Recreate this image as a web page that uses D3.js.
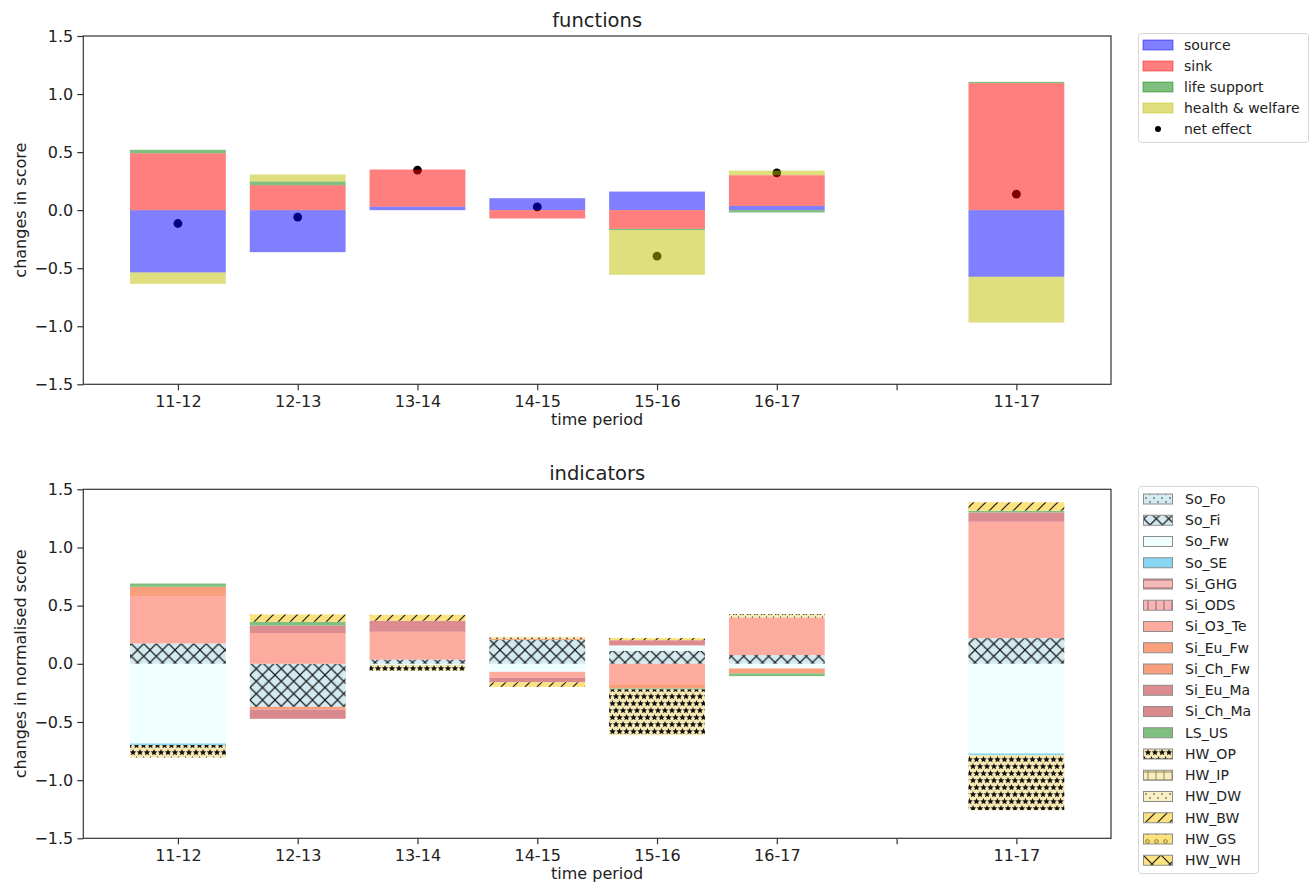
<!DOCTYPE html>
<html>
<head>
<meta charset="utf-8">
<script src="https://cdn.jsdelivr.net/npm/d3@7"></script>
<style>
  body { margin: 0; background: #fff; }
  svg { display: block; font-family: "DejaVu Sans", sans-serif; }
</style>
</head>
<body>
<svg id="chart" width="1314" height="885"></svg>
<script>
// ---------- data ----------
const categories = ["11-12", "12-13", "13-14", "14-15", "15-16", "16-17", "", "11-17"];
const yTicks = [-1.5, -1.0, -0.5, 0.0, 0.5, 1.0, 1.5];

// functions (top)
const fnNames = ["source", "sink", "life support", "health & welfare"];
const source        = [-0.537, -0.362, 0.030,  0.103,  0.160, 0.037, 0, -0.574];
const sink          = [ 0.490,  0.215, 0.320, -0.072, -0.161, 0.264, 0,  1.094];
const lifeSupport   = [ 0.030,  0.032, 0.000,  0.000, -0.011, -0.020, 0, 0.011];
const healthWelfare = [-0.098,  0.060, 0.000,  0.000, -0.385, 0.040, 0, -0.394];
const netEffect     = [-0.115, -0.060, 0.345,  0.028, -0.396, 0.321, null, 0.138];

// indicators (bottom)
const indNames = ["So_Fo","So_Fi","So_Fw","So_SE","Si_GHG","Si_ODS","Si_O3_Te","Si_Eu_Fw","Si_Ch_Fw",
                  "Si_Eu_Ma","Si_Ch_Ma","LS_US","HW_OP","HW_IP","HW_DW","HW_BW","HW_GS","HW_WH"];
const So_Fo    = [0, 0, 0, 0, 0, 0, 0, 0];
const So_Fi    = [0.175, -0.370, 0.037, 0.205, 0.112, 0.075, 0, 0.221];
const So_Fw    = [-0.685, 0, -0.010, -0.069, 0.046, -0.040, 0, -0.771];
const So_SE    = [-0.014, 0, 0, 0, 0, 0, 0, -0.014];
const Si_GHG   = [0, 0, 0, 0, 0, 0, 0, 0];
const Si_ODS   = [0, 0, 0, 0, 0, 0, 0, 0];
const Si_O3_Te = [0.407, 0.265, 0.238, -0.051, -0.175, 0.323, 0, 1.000];
const Si_Eu_Fw = [0.080, -0.023, 0, 0.008, -0.037, -0.043, 0, 0];
const Si_Ch_Fw = [0, 0, 0, 0, 0, 0, 0, 0];
const Si_Eu_Ma = [0, 0.064, 0.095, 0, 0.045, 0, 0, 0.080];
const Si_Ch_Ma = [0, -0.080, 0, -0.040, 0, 0, 0, 0];
const LS_US    = [0.028, 0.032, 0, 0, -0.008, -0.023, 0, 0.015];
const HW_OP    = [-0.106, 0, -0.050, 0.020, -0.393, 0.029, 0, -0.473];
const HW_IP    = [0, 0, 0, 0, 0, 0, 0, 0];
const HW_DW    = [0, 0, 0, 0, 0, 0, 0, 0];
const HW_BW    = [0, 0.063, 0.051, -0.038, 0.018, 0, 0, 0.072];
const HW_GS    = [0, 0, 0, 0, 0, 0, 0, 0];
const HW_WH    = [0, 0, 0, 0, 0, 0, 0, 0];

const fnValues = [source, sink, lifeSupport, healthWelfare];
const indValues = [So_Fo, So_Fi, So_Fw, So_SE, Si_GHG, Si_ODS, Si_O3_Te, Si_Eu_Fw, Si_Ch_Fw,
                   Si_Eu_Ma, Si_Ch_Ma, LS_US, HW_OP, HW_IP, HW_DW, HW_BW, HW_GS, HW_WH];

// ---------- styles ----------
const fnColors = ["#0000ff", "#ff0000", "#008000", "#bfbf00"];
const indStyle = [
  {bg: "#d3eaf1", hatch: "dots"},
  {bg: "#d3eaf1", hatch: "xx"},
  {bg: "#effefe", hatch: null},
  {bg: "#86d6f4", hatch: null},
  {bg: "#f6bcbc", hatch: "hline"},
  {bg: "#f3b6b8", hatch: "vline"},
  {bg: "#fcab9e", hatch: null},
  {bg: "#fa9f7c", hatch: null},
  {bg: "#fa9f7c", hatch: null},
  {bg: "#dc8c90", hatch: null},
  {bg: "#d9898c", hatch: null},
  {bg: "#7fbf7f", hatch: null},
  {bg: "#f6e9b4", hatch: "star"},
  {bg: "#f7edbe", hatch: "plus"},
  {bg: "#f8efc4", hatch: "dots"},
  {bg: "#fbe27c", hatch: "slash"},
  {bg: "#fbe27c", hatch: "circle"},
  {bg: "#fbe27c", hatch: "x"}
];

const svg = d3.select("#chart");
const defs = svg.append("defs");

function starPath(cx, cy, R, r) {
  const pts = [];
  for (let k = 0; k < 10; k++) {
    const a = -Math.PI / 2 + k * Math.PI / 5;
    const rad = k % 2 === 0 ? R : r;
    pts.push([cx + rad * Math.cos(a), cy + rad * Math.sin(a)]);
  }
  return "M" + pts.map(p => p[0].toFixed(2) + "," + p[1].toFixed(2)).join("L") + "Z";
}

function makePattern(id, bg, hatch) {
  let w = 8, h = 8;
  if (hatch === "xx") { w = 12.5; h = 12.5; }
  if (hatch === "x") { w = 18; h = 18; }
  if (hatch === "slash") { w = 12; h = 12; }
  if (hatch === "star") { w = 7; h = 14; }
  if (hatch === "circle") { w = 9; h = 9; }
  const p = defs.append("pattern").attr("id", id).attr("patternUnits", "userSpaceOnUse")
    .attr("width", w).attr("height", h);
  p.append("rect").attr("width", w).attr("height", h).attr("fill", bg);
  const ink = "#1a1a1a";
  if (hatch === "xx" || hatch === "x") {
    p.append("path").attr("d", `M-1,-1L${w+1},${h+1}M-1,${h+1}L${w+1},-1`)
      .attr("stroke", ink).attr("stroke-width", 1.2);
  } else if (hatch === "slash") {
    p.append("path").attr("d", `M-2,${h+2}L${w+2},-2M-3,3L3,-3M${w-3},${h+3}L${w+3},${h-3}`)
      .attr("stroke", ink).attr("stroke-width", 1.2);
  } else if (hatch === "hline") {
    p.append("path").attr("d", `M0,4L${w},4`).attr("stroke", "#b05858").attr("stroke-width", 1);
  } else if (hatch === "vline") {
    p.append("path").attr("d", `M4,0L4,${h}`).attr("stroke", "#b05858").attr("stroke-width", 1);
  } else if (hatch === "plus") {
    p.append("path").attr("d", `M0,4L${w},4M4,0L4,${h}`).attr("stroke", "#8a8050").attr("stroke-width", 0.9);
  } else if (hatch === "dots") {
    p.append("circle").attr("cx", 2).attr("cy", 2).attr("r", 0.8).attr("fill", "#333");
    p.append("circle").attr("cx", 6).attr("cy", 6).attr("r", 0.8).attr("fill", "#333");
  } else if (hatch === "star") {
    const R = 3.5, r = 1.6;
    p.append("path").attr("d", starPath(3.5, 3.5, R, r)).attr("fill", "#111");
    p.append("path").attr("d", starPath(0, 10.5, R, r)).attr("fill", "#111");
    p.append("path").attr("d", starPath(7, 10.5, R, r)).attr("fill", "#111");
  } else if (hatch === "circle") {
    p.append("circle").attr("cx", 4.5).attr("cy", 4.5).attr("r", 1.8)
      .attr("fill", "none").attr("stroke", "#8a7020").attr("stroke-width", 1);
  }
  return `url(#${id})`;
}

const indFill = indStyle.map((s, i) => s.hatch ? makePattern("pat" + i, s.bg, s.hatch) : s.bg);

// ---------- geometry ----------
const left = 83.3, right = 1111;
const panels = [
  {top: 36, bottom: 384.3, title: "functions", ylabel: "changes in score"},
  {top: 489.3, bottom: 838.3, title: "indicators", ylabel: "changes in normalised score"}
];
const x = d3.scaleLinear().domain([-0.79, 7.79]).range([left, right]);
const barW = 0.8;
const fmt = d3.format(".1f");

function stackSeries(valuesList) {
  // positive values stack upward, negative downward, in series order
  const out = valuesList.map(() => []);
  for (let i = 0; i < categories.length; i++) {
    let pos = 0, neg = 0;
    valuesList.forEach((vals, s) => {
      const v = vals[i];
      if (v >= 0) { out[s].push({i, y0: pos, y1: pos + v}); pos += v; }
      else { out[s].push({i, y0: neg + v, y1: neg}); neg += v; }
    });
  }
  return out;
}

function drawFrame(g, y, panel) {
  const yAxis = d3.axisLeft(y).tickValues(yTicks).tickFormat(fmt).tickSize(6).tickPadding(4);
  const xAxis = d3.axisBottom(x).tickValues(d3.range(categories.length))
    .tickFormat(i => categories[i]).tickSize(6).tickPadding(5);
  const ya = g.append("g").attr("transform", `translate(${left},0)`).call(yAxis);
  const xa = g.append("g").attr("transform", `translate(0,${panel.bottom})`).call(xAxis);
  [ya, xa].forEach(a => {
    a.select(".domain").remove();
    a.selectAll("line").attr("stroke", "#333").attr("stroke-width", 1.2);
    a.selectAll("text").attr("font-size", 16).attr("fill", "#222")
      .attr("font-family", "DejaVu Sans, sans-serif");
  });
  g.append("rect").attr("x", left).attr("y", panel.top)
    .attr("width", right - left).attr("height", panel.bottom - panel.top)
    .attr("fill", "none").attr("stroke", "#333").attr("stroke-width", 1.2);
  g.append("text").attr("x", (left + right) / 2).attr("y", panel.top - 9)
    .attr("text-anchor", "middle").attr("font-size", 19.5).attr("fill", "#222").text(panel.title);
  g.append("text").attr("x", (left + right) / 2).attr("y", panel.bottom + 41)
    .attr("text-anchor", "middle").attr("font-size", 16).attr("fill", "#222").text("time period");
  g.append("text")
    .attr("transform", `translate(26,${(panel.top + panel.bottom) / 2}) rotate(-90)`)
    .attr("text-anchor", "middle").attr("font-size", 16).attr("fill", "#222").text(panel.ylabel);
}

// ---------- top panel ----------
{
  const panel = panels[0];
  const y = d3.scaleLinear().domain([-1.5, 1.5]).range([panel.bottom, panel.top]);
  const g = svg.append("g");
  // net effect dots below the translucent bars
  g.append("g").selectAll("circle")
    .data(netEffect.map((v, i) => ({v, i})).filter(d => d.v !== null))
    .join("circle")
    .attr("cx", d => x(d.i)).attr("cy", d => y(d.v)).attr("r", 4.4).attr("fill", "#000");
  const stacked = stackSeries(fnValues);
  stacked.forEach((segs, s) => {
    g.append("g").selectAll("rect").data(segs.filter(d => d.y1 - d.y0 > 0)).join("rect")
      .attr("x", d => x(d.i - barW / 2)).attr("width", x(barW) - x(0))
      .attr("y", d => y(d.y1)).attr("height", d => y(d.y0) - y(d.y1))
      .attr("fill", fnColors[s]).attr("fill-opacity", 0.5);
  });
  drawFrame(g, y, panel);

  const lg = svg.append("g");
  lg.append("rect").attr("x", 1138.5).attr("y", 33.5).attr("width", 170).attr("height", 109)
    .attr("rx", 3).attr("fill", "#fff").attr("stroke", "#d6d6d6");
  fnNames.forEach((n, i) => {
    const cy = 45 + 21 * i;
    lg.append("rect").attr("x", 1143).attr("y", cy - 5).attr("width", 30).attr("height", 10)
      .attr("fill", fnColors[i]).attr("fill-opacity", 0.5)
      .attr("stroke", fnColors[i]).attr("stroke-opacity", 0.6).attr("stroke-width", 0.8);
    lg.append("text").attr("x", 1184).attr("y", cy).attr("dy", "0.35em")
      .attr("font-size", 14).attr("fill", "#222").text(n);
  });
  const ncy = 45 + 21 * 4;
  lg.append("circle").attr("cx", 1158).attr("cy", ncy).attr("r", 3).attr("fill", "#000");
  lg.append("text").attr("x", 1184).attr("y", ncy).attr("dy", "0.35em")
    .attr("font-size", 14).attr("fill", "#222").text("net effect");
}

// ---------- bottom panel ----------
{
  const panel = panels[1];
  const y = d3.scaleLinear().domain([-1.5, 1.5]).range([panel.bottom, panel.top]);
  const g = svg.append("g");
  const stacked = stackSeries(indValues);
  stacked.forEach((segs, s) => {
    g.append("g").selectAll("rect").data(segs.filter(d => d.y1 - d.y0 > 0)).join("rect")
      .attr("x", d => x(d.i - barW / 2)).attr("width", x(barW) - x(0))
      .attr("y", d => y(d.y1)).attr("height", d => y(d.y0) - y(d.y1))
      .attr("fill", indFill[s]);
  });
  drawFrame(g, y, panel);

  const lg = svg.append("g");
  lg.append("rect").attr("x", 1138.5).attr("y", 486.5).attr("width", 120).attr("height", 387)
    .attr("rx", 3).attr("fill", "#fff").attr("stroke", "#d6d6d6");
  indNames.forEach((n, i) => {
    const cy = 499 + 21.25 * i;
    lg.append("rect").attr("x", 1143.5).attr("y", cy - 5).attr("width", 29).attr("height", 10)
      .attr("fill", indFill[i]).attr("stroke", "#8c8c8c").attr("stroke-width", 1);
    lg.append("text").attr("x", 1185).attr("y", cy).attr("dy", "0.35em")
      .attr("font-size", 14).attr("fill", "#222").text(n);
  });
}
</script>
</body>
</html>
